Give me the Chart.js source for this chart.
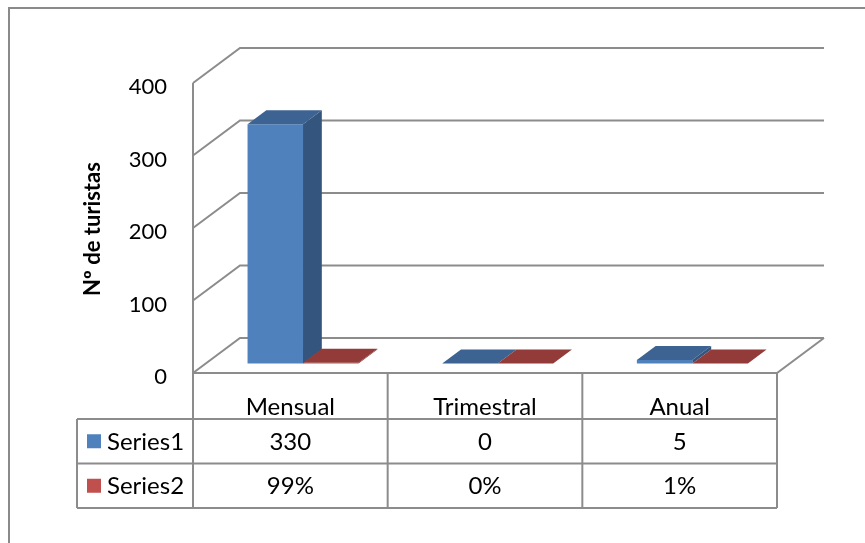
<!DOCTYPE html>
<html>
<head>
<meta charset="utf-8">
<script src="https://cdn.jsdelivr.net/npm/chart.js@4.4.0/dist/chart.umd.min.js"></script>
<style>
  html, body { margin: 0; padding: 0; background: #fff; }
  #wrap { width: 865px; height: 543px; }
</style>
</head>
<body>
<div id="wrap"><canvas id="chart" width="865" height="543"></canvas></div>
<script>
// chart data
const categories = ['Mensual', 'Trimestral', 'Anual'];
const series1 = [330, 0, 5];
const series2 = [0.99, 0, 0.01];
const seriesNames = ['Series1', 'Series2'];
const series1Labels = ['330', '0', '5'];
const series2Labels = ['99%', '0%', '1%'];
const yTicks = [0, 100, 200, 300, 400];
const yTitle = 'Nº de turistas';

// 3d look
const DX = 47, DY = -35;       // depth offset of the back wall
const F1 = 0.27, F2 = 0.67;    // bar front / back as fraction of the depth
const GRID = '#8c8c8c';
const FONT = 'Lato, "Open Sans", sans-serif';
const COLORS = [
    { front: '#4f81bd', side: '#34557e', top: '#3c6392' },
    { front: '#c0504d', side: '#7f2f2d', top: '#923b39' }
];

function line(ctx, pts) {
    ctx.beginPath();
    ctx.moveTo(pts[0][0], pts[0][1]);
    for (let i = 1; i < pts.length; i++) ctx.lineTo(pts[i][0], pts[i][1]);
    ctx.stroke();
}

function poly(ctx, pts, color) {
    ctx.beginPath();
    ctx.moveTo(pts[0][0], pts[0][1]);
    for (let i = 1; i < pts.length; i++) ctx.lineTo(pts[i][0], pts[i][1]);
    ctx.closePath();
    ctx.fillStyle = color;
    ctx.fill();
}

const walls3d = {
    id: 'walls3d',
    beforeDraw(chart) {
        const { ctx, chartArea: a } = chart;
        const ys = chart.scales.y;
        ctx.save();
        ctx.fillStyle = '#fff';
        ctx.fillRect(0, 0, chart.width, chart.height);

        // outer chart frame
        ctx.strokeStyle = '#8a8a8a';
        ctx.lineWidth = 2;
        line(ctx, [[9, chart.height], [9, 8], [chart.width, 8]]);

        ctx.strokeStyle = GRID;
        ctx.lineWidth = 2;
        const y0 = ys.getPixelForValue(0);
        yTicks.forEach(t => {
            const y = ys.getPixelForValue(t);
            line(ctx, [[a.left, y], [a.left + DX, y + DY], [a.right + DX, y + DY]]);
        });
        // left wall edge and floor
        line(ctx, [[a.left, ys.getPixelForValue(yTicks[yTicks.length - 1])], [a.left, y0]]);
        line(ctx, [[a.left, y0], [a.right, y0], [a.right + DX, y0 + DY]]);

        // tick labels
        ctx.fillStyle = '#000';
        ctx.font = '22px ' + FONT;
        ctx.textAlign = 'right';
        ctx.textBaseline = 'middle';
        yTicks.forEach(t => {
            ctx.fillText(String(t), a.left - 26, ys.getPixelForValue(t) + 4);
        });

        // axis title
        ctx.save();
        ctx.translate(93, (a.top + y0) / 2 + 1);
        ctx.rotate(-Math.PI / 2);
        ctx.font = 'bold 22px ' + FONT;
        ctx.textAlign = 'center';
        ctx.fillText(yTitle, 0, 0);
        ctx.restore();
        ctx.restore();
    },
    afterDatasetsDraw(chart) {
        const { ctx } = chart;
        const fx = DX * F1, fy = DY * F1;
        const bx = DX * (F2 - F1), by = DY * (F2 - F1);
        ctx.save();
        categories.forEach((c, i) => {
            chart.data.datasets.forEach((ds, d) => {
                const el = chart.getDatasetMeta(d).data[i];
                const col = COLORS[d];
                const x0 = el.x - el.width / 2 + fx;
                const x1 = el.x + el.width / 2 + fx;
                const yt = Math.min(el.y, el.base) + fy;
                const yb = el.base + fy;
                if (yb - yt > 0.3) {
                    poly(ctx, [[x0, yt], [x1, yt], [x1, yb], [x0, yb]], col.front);
                    poly(ctx, [[x1, yt], [x1 + bx, yt + by], [x1 + bx, yb + by], [x1, yb]], col.side);
                }
                poly(ctx, [[x0, yt], [x0 + bx, yt + by], [x1 + bx, yt + by], [x1, yt]], col.top);
            });
        });
        ctx.restore();
    },
    afterDraw(chart) {
        const { ctx, chartArea: a } = chart;
        const ys = chart.scales.y;
        const y0 = ys.getPixelForValue(0);
        const colW = (a.right - a.left) / categories.length;
        const r1 = y0 + 46, r2 = r1 + 44.5, r3 = r2 + 44.5;
        const tableLeft = 77;

        ctx.save();
        ctx.strokeStyle = GRID;
        ctx.lineWidth = 2;
        for (let i = 0; i <= categories.length; i++) {
            const x = a.left + colW * i;
            line(ctx, [[x, y0], [x, r3]]);
        }
        [r1, r2, r3].forEach(y => line(ctx, [[tableLeft, y], [a.right, y]]));
        line(ctx, [[tableLeft, r1], [tableLeft, r3]]);

        ctx.fillStyle = '#000';
        ctx.font = '24px ' + FONT;
        ctx.textAlign = 'center';
        ctx.textBaseline = 'alphabetic';
        categories.forEach((c, i) => {
            const cx = a.left + colW * (i + 0.5);
            ctx.fillText(c, cx, r1 - 4);
        });
        ctx.textBaseline = 'middle';
        [series1Labels, series2Labels].forEach((labels, d) => {
            const cy = d === 0 ? (r1 + r2) / 2 : (r2 + r3) / 2;
            labels.forEach((txt, i) => {
                ctx.fillText(txt, a.left + colW * (i + 0.5), cy + 1);
            });
            ctx.fillStyle = COLORS[d].front;
            ctx.fillRect(87, cy - 7, 14, 14);
            ctx.fillStyle = '#000';
            ctx.textAlign = 'left';
            ctx.fillText(seriesNames[d], 107, cy + 1);
            ctx.textAlign = 'center';
        });
        ctx.restore();
    }
};

new Chart(document.getElementById('chart'), {
    type: 'bar',
    data: {
        labels: categories,
        datasets: [
            { label: seriesNames[0], data: series1, backgroundColor: 'rgba(0,0,0,0)' },
            { label: seriesNames[1], data: series2, backgroundColor: 'rgba(0,0,0,0)' }
        ]
    },
    options: {
        responsive: false,
        animation: false,
        devicePixelRatio: 1,
        layout: { padding: { left: 193, right: 88, top: 83, bottom: 170 } },
        datasets: { bar: { categoryPercentage: 0.57, barPercentage: 1.0 } },
        plugins: { legend: { display: false }, tooltip: { enabled: false } },
        scales: {
            x: { display: false },
            y: { display: false, min: 0, max: 400 }
        }
    },
    plugins: [walls3d]
});
</script>
</body>
</html>
